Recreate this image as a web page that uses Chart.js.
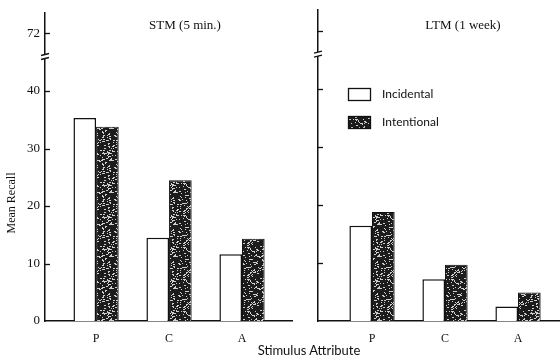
<!DOCTYPE html>
<html>
<head>
<meta charset="utf-8">
<script src="https://cdn.jsdelivr.net/npm/chart.js@4"></script>
<style>
  body { margin: 0; background: #fff; }
  #wrap { position: relative; width: 560px; height: 360px; overflow: hidden; }
  #left { position: absolute; left: 0; top: 0; }
  #right { position: absolute; left: 300px; top: 0; }
  #xtitle { position: absolute; left: 309px; top: 342px; transform: translateX(-50%);
    font: 13px Lato, sans-serif; color: #111; white-space: nowrap; }
</style>
</head>
<body>
<div id="wrap">
  <canvas id="left" width="300" height="360"></canvas>
  <canvas id="right" width="260" height="360"></canvas>
  <div id="xtitle">Stimulus Attribute</div>
</div>
<script>
// data
var categories = ['P', 'C', 'A'];
var stmIncidental = [35.3, 14.5, 11.6];
var stmIntentional = [33.8, 24.5, 14.3];
var ltmIncidental = [16.4, 7.2, 2.5];
var ltmIntentional = [18.8, 9.7, 4.9];
var yTicks = [0, 10, 20, 30, 40, 50];
var yTickLabels = ['0', '10', '20', '30', '40', '72'];
var seriesNames = ['Incidental', 'Intentional'];

var serif = "'Liberation Serif', 'DejaVu Serif', serif";

// dark stippled fill like the printed bars
function stipple() {
  var c = document.createElement('canvas');
  c.width = c.height = 32;
  var g = c.getContext('2d');
  g.fillStyle = '#1c1c1c';
  g.fillRect(0, 0, 32, 32);
  g.fillStyle = '#cfcfcf';
  var s = 11;
  for (var i = 0; i < 170; i++) {
    s = (s * 16807) % 2147483647;
    var x = s % 32;
    s = (s * 16807) % 2147483647;
    var y = s % 32;
    g.fillRect(x, y, (i % 3 === 0) ? 2 : 1, 1);
  }
  return g.createPattern(c, 'repeat');
}
var darkFill = stipple();

function points(vals) {
  return vals.map(function (v, i) { return { x: i + 1, y: v }; });
}

var decor = {
  id: 'decor',
  afterDraw: function (chart) {
    var o = chart.options.plugins.decor;
    var ctx = chart.ctx;
    var y = chart.scales.y;
    var x0 = chart.chartArea.left;
    ctx.save();
    ctx.strokeStyle = '#111';
    ctx.lineWidth = 1.3;
    // inward tick marks
    yTicks.forEach(function (v) {
      if (v === 0) return;
      var py = Math.round(y.getPixelForValue(v)) + 0.5;
      ctx.beginPath();
      ctx.moveTo(x0, py);
      ctx.lineTo(x0 + 5, py);
      ctx.stroke();
    });
    // axis break
    var pb = y.getPixelForValue(46);
    ctx.fillStyle = '#fff';
    ctx.fillRect(x0 - 3, pb - 2, 6, 4);
    ctx.beginPath();
    ctx.moveTo(x0 - 4, pb - 1); ctx.lineTo(x0 + 4, pb - 3);
    ctx.moveTo(x0 - 4, pb + 3); ctx.lineTo(x0 + 4, pb + 1);
    ctx.stroke();
    // panel title
    ctx.fillStyle = '#111';
    ctx.font = '13px ' + serif;
    ctx.textAlign = 'center';
    ctx.textBaseline = 'middle';
    ctx.fillText(o.title, o.titleX, 26);
    if (o.yTitle) {
      ctx.save();
      ctx.translate(12, 203);
      ctx.rotate(-Math.PI / 2);
      ctx.font = '12px ' + serif;
      ctx.fillText(o.yTitle, 0, 0);
      ctx.restore();
    }
    if (o.legend) {
      var ds = chart.data.datasets;
      ctx.textAlign = 'left';
      ctx.font = '12px Lato, sans-serif';
      [[88, 94], [116, 122]].forEach(function (r, i) {
        ctx.fillStyle = ds[i].backgroundColor;
        ctx.fillRect(48, r[0], 23, 13);
        ctx.strokeStyle = '#111';
        ctx.lineWidth = 1.3;
        ctx.strokeRect(48.5, r[0] + 0.5, 22, 12);
        ctx.fillStyle = '#111';
        ctx.fillText(ds[i].label, 82, r[1]);
      });
    }
    ctx.restore();
  }
};

function makeChart(id, inc, intl, opt) {
  return new Chart(document.getElementById(id), {
    type: 'bar',
    data: {
      datasets: [{
        label: seriesNames[0],
        data: points(inc),
        backgroundColor: '#ffffff',
        borderColor: '#111',
        borderWidth: 1.5
      }, {
        label: seriesNames[1],
        data: points(intl),
        backgroundColor: darkFill,
        borderColor: '#111',
        borderWidth: 1
      }]
    },
    options: {
      responsive: false,
      animation: false,
      layout: { padding: { top: 10, right: opt.padRight, left: 0, bottom: 0 } },
      categoryPercentage: 0.62,
      barPercentage: 1.0,
      plugins: {
        legend: { display: false },
        tooltip: { enabled: false },
        decor: opt.decor
      },
      scales: {
        x: {
          type: 'linear',
          offset: false,
          min: opt.xmin,
          max: opt.xmax,
          grid: { display: false, offset: false },
          border: { display: true, color: '#111', width: 1.5 },
          afterBuildTicks: function (s) {
            s.ticks = categories.map(function (c, i) { return { value: i + 1 }; });
          },
          afterFit: function (s) { s.height = 39; },
          ticks: {
            autoSkip: false,
            padding: 3,
            color: '#111',
            font: { family: serif, size: 12 },
            callback: function (v) { return categories[Math.round(v) - 1] || ''; }
          }
        },
        y: {
          min: 0,
          max: 53.6,
          grid: { display: false, drawTicks: false },
          border: { display: true, color: '#111', width: 1.5 },
          afterBuildTicks: function (s) {
            s.ticks = yTicks.map(function (v) { return { value: v }; });
          },
          afterFit: function (s) { s.width = opt.yWidth; },
          ticks: {
            display: opt.showY,
            padding: 5,
            color: '#111',
            font: { family: serif, size: 13 },
            callback: function (v) { return yTickLabels[yTicks.indexOf(v)]; }
          }
        }
      }
    },
    plugins: [decor]
  });
}

makeChart('left', stmIncidental, stmIntentional, {
  padRight: 8, xmin: 0.30, xmax: 3.685, yWidth: 45, showY: true,
  decor: { title: 'STM (5 min.)', titleX: 185, yTitle: 'Mean Recall' }
});
makeChart('right', ltmIncidental, ltmIntentional, {
  padRight: 0, xmin: 0.26, xmax: 3.575, yWidth: 18, showY: false,
  decor: { title: 'LTM (1 week)', titleX: 163, legend: true }
});
</script>
</body>
</html>
